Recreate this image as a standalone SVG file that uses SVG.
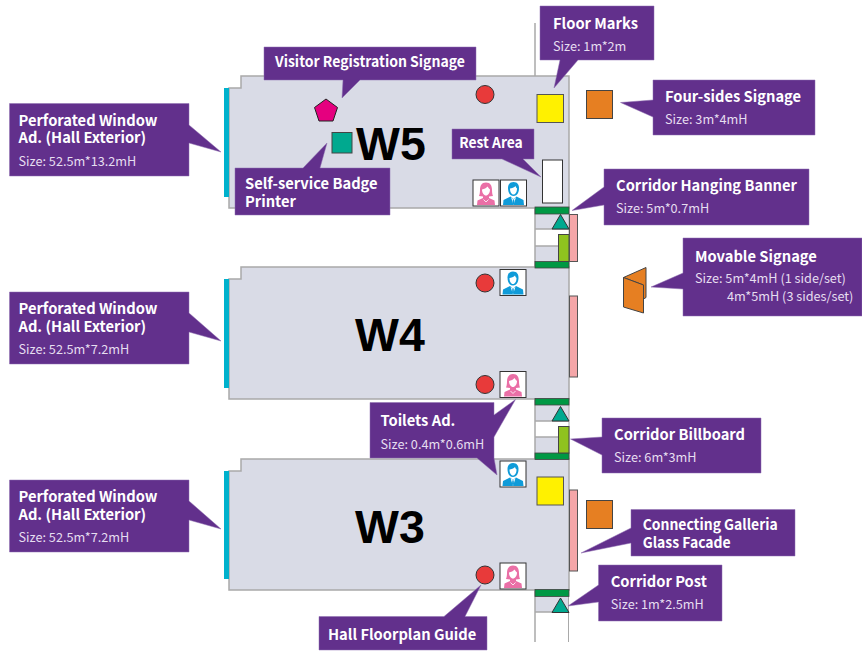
<svg xmlns="http://www.w3.org/2000/svg" width="862" height="651" viewBox="0 0 862 651">
<style>
text{font-family:"Noto Sans CJK SC","Noto Sans",sans-serif}
.t{font-size:14.700px;font-weight:700;fill:#fff}
.s{font-size:12.700px;fill:#e6def0}
.w{font-family:"Liberation Sans",Arial,sans-serif;font-size:46.500px;font-weight:700;fill:#000}
.hall{fill:#d9dbe6;stroke:#a9a9a9;stroke-width:1.500}
.call{fill:#62308c;stroke:#8f6fb0;stroke-width:.5}
.line{fill:none;stroke:#a9a9a9;stroke-width:1.500}
.cy{fill:#00b1cc}
.gr{fill:#009844;stroke:#444;stroke-width:.8}
.tri{fill:#00a98f;stroke:#333;stroke-width:1}
.pk{fill:#f4a6a8;stroke:#555;stroke-width:1}
.lm{fill:#8fc31f;stroke:#444;stroke-width:1}
.ye{fill:#fff100;stroke:#555;stroke-width:1}
.or{fill:#e67f22;stroke:#444;stroke-width:1}
.red{fill:#e83a3a;stroke:#333;stroke-width:1}
.cg{fill:#d9dbe6}
</style>
<defs>
<g id="female">
<rect x="0" y="0" width="26" height="26" fill="#fff" stroke="#333" stroke-width="1"/>
<path d="M13 2.500C8.500 2.500 7 6 7 10C7 13 6.500 15 6 16L10 16.500V18L4.500 20.500L4 25H22L21.500 20.500L16 18V16.500L20 16C19.500 15 19 13 19 10C19 6 17.500 2.500 13 2.500Z" fill="#ea6fa6"/>
<path d="M9 9.500C11 9 13.500 8 14.500 6.500C15.500 8 16.500 9 17 9.500C17 13 15 15.500 13 15.500C11 15.500 9 13 9 9.500Z" fill="#fff"/>
<path d="M10.500 19.500L13 22L15.500 19.500" fill="none" stroke="#fff" stroke-width=".8"/>
</g>
<g id="male">
<rect x="0" y="0" width="26" height="26" fill="#fff" stroke="#333" stroke-width="1"/>
<path d="M13 2C9 2 7.500 5 7.500 8C7.500 12 9 16 13 16C17 16 18.500 12 18.500 8C18.500 5 17 2 13 2Z" fill="#0f9bd9"/>
<path d="M9.500 8.500C11 8.500 14 7.500 15 6C15.500 7.500 16 8 16.500 8.500C16.500 12 15 14.500 13 14.500C11 14.500 9.500 12 9.500 8.500Z" fill="#fff"/>
<path d="M10 16.500L3 20L2.500 25H23.500L23 20L16 16.500L13 19Z" fill="#0f9bd9"/>
<path d="M10.500 17L13 25L15.500 17L13 19.500Z" fill="#fff"/>
<path d="M12.300 19.500H13.700L14 23L13 25L12 23Z" fill="#0f9bd9"/>
</g>
</defs>

<g id="halls">
<path id="hall-w5" class="hall" d="M229 88H241V76H569V208H229Z"/>
<path id="hall-w4" class="hall" d="M229 279H241V267H569V399H229Z"/>
<path id="hall-w3" class="hall" d="M229 471H241V459H569V590H229Z"/>
</g>

<g id="connectors">
<path class="line" d="M535 23V76"/>
<rect class="cg" x="535" y="214" width="34" height="15"/>
<rect class="cg" x="535" y="246" width="34" height="16"/>
<rect class="cg" x="535" y="405" width="34" height="16"/>
<rect class="cg" x="535" y="437" width="34" height="16"/>
<rect class="cg" x="535" y="596" width="34" height="16"/>
<path class="line" d="M535 208V267M535 399V459M535 590V642M535 229H569M535 246H569M535 421H569M535 437H569M535 612H569"/>
<path d="M569 208V267M569 399V459M568.500 590V642" fill="none" stroke="#a9a9a9" stroke-width="1"/>
</g>

<g id="corridor">
<rect class="gr" x="535" y="207" width="34" height="7"/>
<rect class="gr" x="535" y="261.500" width="34" height="6.500"/>
<rect class="gr" x="535" y="398.500" width="34" height="6.500"/>
<rect class="gr" x="535" y="453" width="34" height="6.500"/>
<rect class="gr" x="535" y="589.500" width="34" height="7"/>
<path class="tri" d="M560.500 214.500L552 229H569Z"/>
<path class="tri" d="M560.500 406.500L552 421H569Z"/>
<path class="tri" d="M560.500 598L552 612.500H569Z"/>
<rect class="lm" x="558.500" y="234.500" width="10.500" height="27"/>
<rect class="lm" x="558.500" y="426.500" width="10.500" height="26.500"/>
<rect class="pk" x="569.500" y="214.500" width="8" height="47"/>
<rect class="pk" x="569.500" y="296" width="8" height="81"/>
<rect class="pk" x="569.500" y="490" width="8" height="81"/>
</g>

<g id="walls">
<rect class="cy" x="224" y="88" width="5" height="109"/>
<rect class="cy" x="224" y="279" width="5" height="109"/>
<rect class="cy" x="224" y="471" width="5" height="108"/>
</g>

<g id="markers">
<circle class="red" cx="485" cy="94.500" r="9"/>
<circle class="red" cx="485" cy="283" r="9"/>
<circle class="red" cx="485" cy="384.500" r="9"/>
<circle class="red" cx="485" cy="575" r="9"/>
<rect class="ye" x="537" y="94.500" width="26.500" height="28"/>
<rect class="ye" x="537" y="477" width="26.500" height="28"/>
<rect class="or" x="586.500" y="90.500" width="26" height="28"/>
<rect class="or" x="586.500" y="500.500" width="26" height="28"/>
<rect x="542.500" y="160" width="20" height="43" fill="#fff" stroke="#333" stroke-width="1"/>
<path d="M326 99L337.500 107.500L333 121H319L314.500 107.500Z" fill="#e5007f" stroke="#222" stroke-width="1"/>
<rect x="332" y="132.500" width="20" height="20.500" fill="#00a98f" stroke="#444" stroke-width="1"/>
<path d="M623.500 277.500L646 267.500V297.500L643.500 299V285Z" fill="#e67f22" stroke="#444" stroke-width="1"/>
<path d="M623.500 277.500L643.500 285V313L623.500 307Z" fill="#e67f22" stroke="#444" stroke-width="1"/>
<use href="#female" x="473" y="180"/>
<use href="#male" x="500.500" y="180"/>
<use href="#male" x="500" y="269.500"/>
<use href="#female" x="500" y="371.500"/>
<use href="#male" x="500" y="461"/>
<use href="#female" x="500" y="563"/>
</g>

<g id="hall-labels">
<text class="w" x="356" y="160">W5</text>
<text class="w" x="355" y="351">W4</text>
<text class="w" x="355" y="543">W3</text>
</g>

<g id="callout-window-w5"><path class="call" d="M9.500 103.500H189V125L221 152L189 143V176H9.500Z"/><text class="t" x="18.500" y="125.500">Perforated Window</text><text class="t" x="18.500" y="143">Ad. (Hall Exterior)</text><text class="s" x="18.500" y="166">Size: 52.5m*13.2mH</text></g>
<g id="callout-window-w4"><path class="call" d="M9.500 292H189V313L221 341L189 332V364H9.500Z"/><text class="t" x="18.500" y="314">Perforated Window</text><text class="t" x="18.500" y="332">Ad. (Hall Exterior)</text><text class="s" x="18.500" y="353.500">Size: 52.5m*7.2mH</text></g>
<g id="callout-window-w3"><path class="call" d="M9.500 480H189V501L221 529L189 520V552H9.500Z"/><text class="t" x="18.500" y="502">Perforated Window</text><text class="t" x="18.500" y="520">Ad. (Hall Exterior)</text><text class="s" x="18.500" y="541.500">Size: 52.5m*7.2mH</text></g>
<g id="callout-visitor"><path class="call" d="M264 47H476V80H360L342 98L343 80H264Z"/><text class="t" x="275" y="67" textLength="190" lengthAdjust="spacingAndGlyphs">Visitor Registration Signage</text></g>
<g id="callout-badge"><path class="call" d="M235 168H303L327 143L320 168H390V215H235Z"/><text class="t" x="245" y="189">Self-service Badge</text><text class="t" x="245" y="207">Printer</text></g>
<g id="callout-floor"><path class="call" d="M540 6H654V60H578L554 88L560 60H540Z"/><text class="t" x="553" y="29">Floor Marks</text><text class="s" x="553" y="50.500">Size: 1m*2m</text></g>
<g id="callout-rest"><path class="call" d="M452 129H534V159H523L541 177L502 159H452Z"/><text class="t" x="459.300" y="148" textLength="63.500" lengthAdjust="spacingAndGlyphs">Rest Area</text></g>
<g id="callout-foursides"><path class="call" d="M653 80H815V135H653V117L620.500 102.500L653 100Z"/><text class="t" x="665" y="102">Four-sides Signage</text><text class="s" x="665" y="123.500">Size: 3m*4mH</text></g>
<g id="callout-banner"><path class="call" d="M604 169H809V225H604V205L572 210.500L604 187Z"/><text class="t" x="616" y="191">Corridor Hanging Banner</text><text class="s" x="616" y="213">Size: 5m*0.7mH</text></g>
<g id="callout-movable"><path class="call" d="M683 238H862V316H683V289L651 287L683 273Z"/><text class="t" x="695" y="261.500">Movable Signage</text><text class="s" x="695" y="283">Size: 5m*4mH (1 side/set)</text><text class="s" x="727" y="300.500">4m*5mH (3 sides/set)</text></g>
<g id="callout-toilets"><path class="call" d="M370 402.500H494V415L515.500 399.500L494 437V458L497 475L477 458H370Z"/><text class="t" x="380.500" y="426">Toilets Ad.</text><text class="s" x="380.500" y="449">Size: 0.4m*0.6mH</text></g>
<g id="callout-billboard"><path class="call" d="M602 418H761V473H602V455L570.500 439L602 437Z"/><text class="t" x="614" y="440">Corridor Billboard</text><text class="s" x="614" y="461.500">Size: 6m*3mH</text></g>
<g id="callout-galleria"><path class="call" d="M631 509.500H795V556H631V543L581 553L631 528Z"/><text class="t" x="642.700" y="530" textLength="135" lengthAdjust="spacingAndGlyphs">Connecting Galleria</text><text class="t" x="642.700" y="547.500" textLength="88" lengthAdjust="spacingAndGlyphs">Glass Facade</text></g>
<g id="callout-post"><path class="call" d="M598.500 565H722V621H598.500V602L568 606L598.500 585Z"/><text class="t" x="610.700" y="587">Corridor Post</text><text class="s" x="610.700" y="609">Size: 1m*2.5mH</text></g>
<g id="callout-floorplan"><path class="call" d="M319 616.500H444L481 585L465 616.500H487V650H319Z"/><text class="t" x="328" y="640">Hall Floorplan Guide</text></g>
</svg>
